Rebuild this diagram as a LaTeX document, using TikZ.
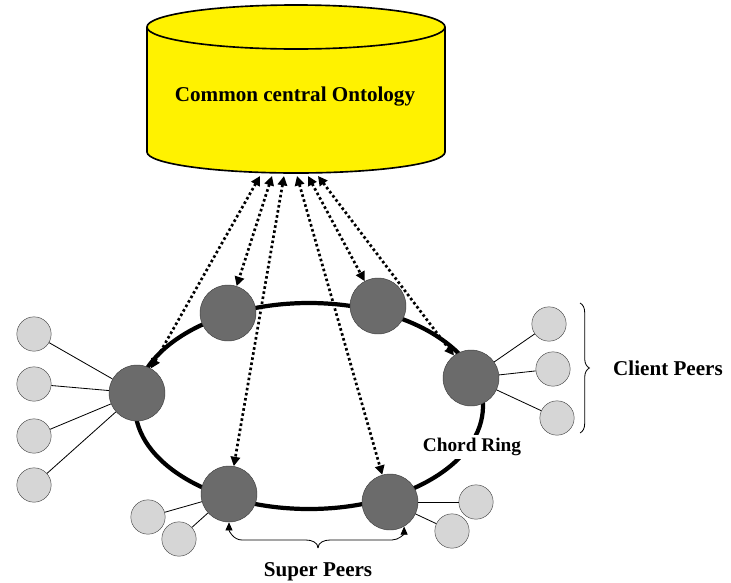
\documentclass[tikz,border=0pt]{standalone}
\usepackage{fontspec}
\setmainfont{Liberation Serif}
\usetikzlibrary{arrows.meta,decorations.pathreplacing}

\tikzset{
  superpeer/.style={circle, draw=black!75, fill=black!58, minimum size=1.68cm, inner sep=0pt},
  clientpeer/.style={circle, draw=black!70, fill=black!16, minimum size=1.03cm, inner sep=0pt},
  dotlink/.style={line width=2.3pt, dash pattern=on 2.2pt off 2.2pt,
    {Triangle[length=8pt,width=8pt]}-{Triangle[length=8pt,width=8pt]}},
  peerlink/.style={line width=0.7pt},
  lbl/.style={font=\bfseries\fontsize{18}{20}\selectfont, inner sep=0pt}
}

\begin{document}
\begin{tikzpicture}[x=0.03cm, y=0.03cm]
        \useasboundingbox (0,0) rectangle (731,-582);

        % ontology store
        \fill[yellow] (147,-27) -- (147,-152) arc [start angle=180, end angle=360, x radius=149, y radius=21] -- (445,-27) arc [start angle=0, end angle=180, x radius=149, y radius=22] -- cycle;
        \draw[line width=1.4pt] (147,-27) -- (147,-152) arc [start angle=180, end angle=360, x radius=149, y radius=21] -- (445,-27);
        \draw[line width=1.4pt] (296,-27) ellipse [x radius=149, y radius=22];
        \node[lbl] (onto) at (295,-97) {Common central Ontology};

        % chord ring
        \draw[line width=3.6pt] (309,-406) ellipse [x radius=174, y radius=103];

        % super peers
        \node[superpeer] (p1) at (137,-393) {};
        \node[superpeer] (p2) at (228,-313) {};
        \node[superpeer] (p3) at (378,-306) {};
        \node[superpeer] (p4) at (471,-378) {};
        \node[superpeer] (p5) at (229,-494) {};
        \node[superpeer] (p6) at (390,-502) {};

        % client peers
        \node[clientpeer] (c1) at (34,-334) {};
        \node[clientpeer] (c2) at (34,-384) {};
        \node[clientpeer] (c3) at (34,-436) {};
        \node[clientpeer] (c4) at (34,-485) {};
        \node[clientpeer] (c5) at (549,-324) {};
        \node[clientpeer] (c6) at (553,-369) {};
        \node[clientpeer] (c7) at (557,-418) {};
        \node[clientpeer] (c8) at (148,-517) {};
        \node[clientpeer] (c9) at (179,-539) {};
        \node[clientpeer] (c10) at (476,-502) {};
        \node[clientpeer] (c11) at (452,-531) {};

        \foreach \c in {c1,c2,c3,c4} \draw[peerlink] (p1) -- (\c);
        \foreach \c in {c5,c6,c7} \draw[peerlink] (p4) -- (\c);
        \foreach \c in {c8,c9} \draw[peerlink] (p5) -- (\c);
        \foreach \c in {c10,c11} \draw[peerlink] (p6) -- (\c);

        % links to the ontology
        \coordinate (t1) at (260,-176);
        \coordinate (t2) at (272,-176);
        \coordinate (t3) at (284,-176);
        \coordinate (t4) at (297,-176);
        \coordinate (t5) at (308,-176);
        \coordinate (t6) at (318,-176);
        \draw[dotlink] (t1) -- (p1);
        \draw[dotlink] (t2) -- (p2);
        \draw[dotlink] (t3) -- (p5);
        \draw[dotlink] (t4) -- (p6);
        \draw[dotlink] (t5) -- (p3);
        \draw[dotlink] (t6) -- (p4);

        % client peers brace
        \draw[line width=0.7pt, decorate, decoration={brace, amplitude=8pt}] (580,-303) -- (580,-433);
        \node[lbl, anchor=west] (cpl) at (613,-368) {Client Peers};

        \node[lbl, fill=white, inner sep=3pt, font=\bfseries\fontsize{16.5}{18}\selectfont] (crl) at (472,-447) {Chord Ring};

        % super peers brace
        \coordinate (sptip) at (318,-548);
        \draw[line width=0.7pt, -{Triangle[length=7pt,width=6pt]}] (sptip) to[out=90, in=0] (306,-540) -- (242,-540) to[out=180, in=-90] (p5.south);
        \draw[line width=0.7pt, -{Triangle[length=7pt,width=6pt]}] (sptip) to[out=90, in=180] (330,-540) -- (392,-540) to[out=0, in=-90] (p6.-60);
        \node[lbl] (spl) at (318,-572) {Super Peers};

    \end{tikzpicture}
\end{document}
